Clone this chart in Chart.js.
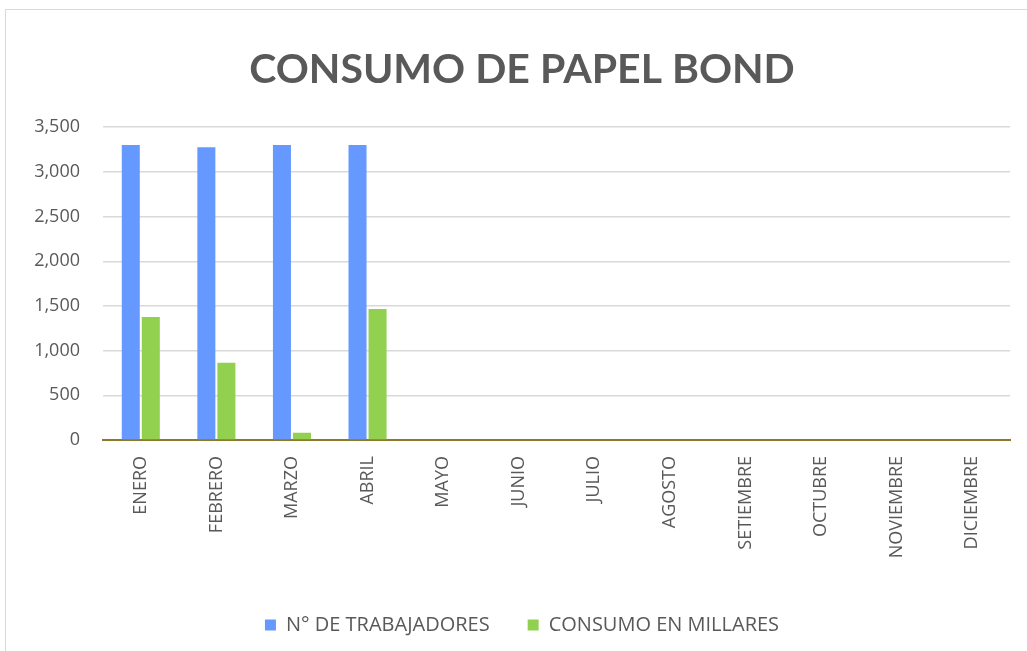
<!DOCTYPE html>
<html>
<head>
<meta charset="utf-8">
<script src="https://cdn.jsdelivr.net/npm/chart.js@4/dist/chart.umd.min.js"></script>
<style>
  body { margin: 0; background: #fff; }
  #box { position: absolute; left: 5px; top: 9px; width: 1030px; height: 670px; border: 1px solid #d9d9d9; box-sizing: border-box; }
</style>
</head>
<body>
<div id="box"><canvas id="myChart"></canvas></div>
<script>
const meses = ['ENERO','FEBRERO','MARZO','ABRIL','MAYO','JUNIO','JULIO','AGOSTO','SETIEMBRE','OCTUBRE','NOVIEMBRE','DICIEMBRE']
const trabajadores = [3300, 3275, 3300, 3300, 0, 0, 0, 0, 0, 0, 0, 0]
const consumo = [1375, 865, 80, 1465, 0, 0, 0, 0, 0, 0, 0, 0]
const yTicks = [0, 500, 1000, 1500, 2000, 2500, 3000, 3500]

const ctx = document.getElementById('myChart')
ctx.width = 1028; ctx.height = 662

const tickFont = { family: 'Open Sans', size: 18 }

const myChart = new Chart(ctx, {
    type: 'bar',
    data: {
        labels: meses,
        datasets: [{
            label: 'N° DE TRABAJADORES',
            data: trabajadores,
            backgroundColor: '#6699ff',
            categoryPercentage: 0.53,
            barPercentage: 0.9
        }, {
            label: 'CONSUMO EN MILLARES',
            data: consumo,
            backgroundColor: '#92d050',
            categoryPercentage: 0.53,
            barPercentage: 0.9
        }]
    },
    options: {
        responsive: false,
        animation: false,
        layout: { padding: { left: 28, right: 24, top: 24, bottom: 27 } },
        plugins: {
            title: {
                display: true,
                text: 'CONSUMO DE PAPEL BOND',
                color: '#595959',
                font: { family: 'Lato', size: 41, weight: 'bold' },
                padding: { top: 11, bottom: 33 }
            },
            legend: {
                position: 'bottom',
                labels: {
                    color: '#595959',
                    font: { family: 'Open Sans', size: 20 },
                    boxWidth: 11,
                    boxHeight: 11,
                    padding: 38
                }
            },
            tooltip: { enabled: false }
        },
        scales: {
            x: {
                afterFit: axis => { axis.height = 137 },
                grid: { display: false, drawTicks: false },
                border: { color: '#8c7a2a', width: 2 },
                ticks: {
                    color: '#595959',
                    font: tickFont,
                    maxRotation: 90,
                    minRotation: 90,
                    padding: 16
                }
            },
            y: {
                min: 0,
                max: 3500,
                afterBuildTicks: axis => { axis.ticks = yTicks.map(v => ({ value: v })) },
                afterFit: axis => { axis.width = 69 },
                grid: { color: '#d9d9d9', lineWidth: 1.5, drawTicks: false },
                border: { display: false },
                ticks: {
                    color: '#595959',
                    font: tickFont,
                    padding: 23
                }
            }
        }
    }
})
</script>
</body>
</html>
